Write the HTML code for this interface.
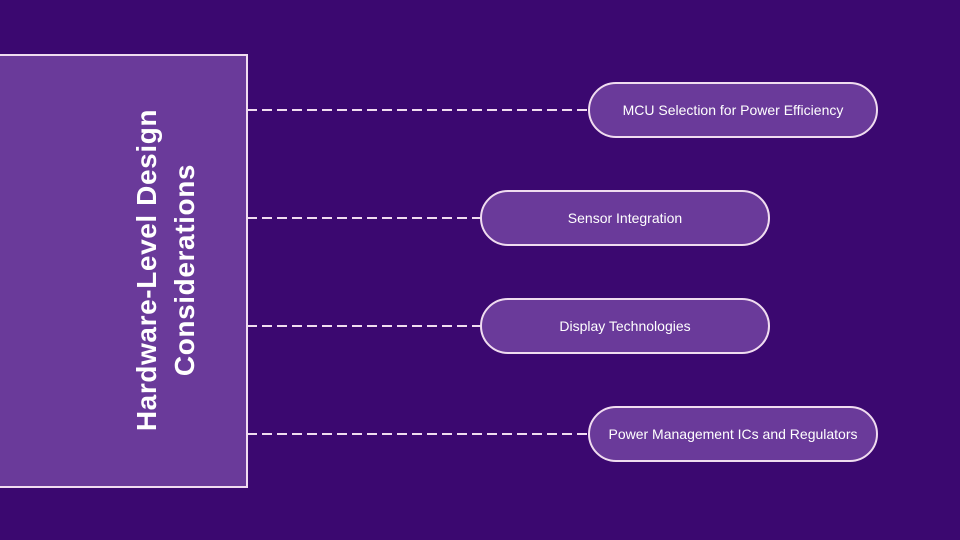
<!DOCTYPE html>
<html><head><style>
body{margin:0;width:960px;height:540px;background:#3b0870;position:relative;overflow:hidden;font-family:"Liberation Sans",sans-serif}
.box{position:absolute;left:-2px;top:54px;width:246px;height:430px;background:#6a3a9a;border:2px solid #f0dcf0}
.title{position:absolute;left:166px;top:270px;transform:translate(-50%,-50%) rotate(-90deg);color:#fff;font-weight:bold;font-size:28px;letter-spacing:0.6px;line-height:38px;text-align:center;white-space:nowrap}
.pill{position:absolute;height:52px;border:2px solid #f0dcf0;border-radius:28px;background:#6a3a9a;color:#fff;font-size:14px;display:flex;align-items:center;justify-content:center}
svg{position:absolute;left:0;top:0}
</style></head><body>
<svg width="960" height="540"><g stroke="#f0dcf0" stroke-width="2" stroke-dasharray="10 5">
<line x1="247" y1="110" x2="589" y2="110"/>
<line x1="247" y1="218" x2="481" y2="218"/>
<line x1="247" y1="326" x2="481" y2="326"/>
<line x1="247" y1="434" x2="589" y2="434"/>
</g></svg>
<div class="box"></div>
<div class="title">Hardware-Level Design<br>Considerations</div>
<div class="pill" style="left:588px;top:82px;width:286px">MCU Selection for Power Efficiency</div>
<div class="pill" style="left:480px;top:190px;width:286px">Sensor Integration</div>
<div class="pill" style="left:480px;top:298px;width:286px">Display Technologies</div>
<div class="pill" style="left:588px;top:406px;width:286px">Power Management ICs and Regulators</div>
</body></html>
